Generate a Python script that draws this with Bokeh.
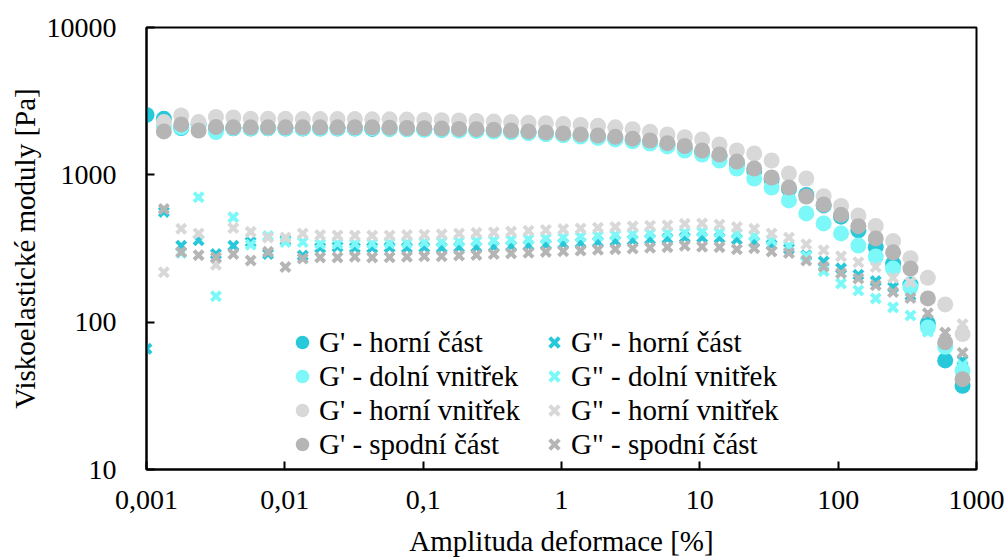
from bokeh.plotting import figure
from bokeh.models import Range1d, FixedTicker, Legend, LegendItem, ColumnDataSource
from bokeh.embed import file_html
from bokeh.resources import INLINE

NA = float("nan")

# amplitude of deformation [%]
strain = [0.001, 0.001335, 0.001782, 0.00238, 0.003177, 0.004242, 0.005664, 0.007562,
          0.0101, 0.01348, 0.018, 0.02403, 0.03208, 0.04283, 0.05718, 0.07634,
          0.1019, 0.1361, 0.1817, 0.2426, 0.3239, 0.4324, 0.5774, 0.7708,
          1.029, 1.374, 1.835, 2.449, 3.27, 4.366, 5.829, 7.782,
          10.39, 13.87, 18.52, 24.73, 33.01, 44.07, 58.84, 78.56,
          104.9, 140.0, 186.9, 249.6, 333.2, 444.9, 593.9, 792.9]

# G' (storage modulus) [Pa]
gp_horni_cast = [2550, 2400, 2080, 2200, 2060, 2070, 2060, 2070, 2060, 2060, 2060, 2060,
                 2060, 2050, 2050, 2040, 2030, 2020, 2010, 2000, 1980, 1960, 1930, 1900,
                 1870, 1840, 1800, 1760, 1710, 1660, 1590, 1520, 1420, 1330, 1190, 1060,
                 930, 800, 730, 620, 520, 420, 323, 250, 180, 98, 55, 37]
gp_dolni_vnitrek = [NA, 2150, 2100, 2200, 1950, 2080, 2070, 2070, 2070, 2070, 2070, 2070,
                    2070, 2070, 2050, 2040, 2030, 2020, 2000, 1990, 1970, 1950, 1920, 1890,
                    1860, 1820, 1780, 1740, 1690, 1630, 1560, 1463, 1374, 1251, 1104, 944,
                    820, 670, 547, 468, 400, 331, 279, 231, 173, 92, 68, 47]
gp_horni_vnitrek = [NA, 2280, 2530, 2280, 2470, 2450, 2400, 2400, 2400, 2390, 2390, 2390,
                    2390, 2380, 2380, 2370, 2360, 2350, 2340, 2320, 2300, 2280, 2260, 2240,
                    2210, 2180, 2150, 2100, 2040, 1960, 1880, 1800, 1738, 1607, 1463, 1396,
                    1251, 1021, 944, 716, 615, 530, 450, 355, 272, 200, 132, 83]
gp_spodni_cast = [NA, 1970, 2200, 2000, 2110, 2100, 2100, 2100, 2100, 2100, 2100, 2100,
                  2100, 2100, 2090, 2080, 2070, 2060, 2050, 2040, 2020, 2000, 1970, 1940,
                  1910, 1880, 1850, 1810, 1760, 1710, 1640, 1570, 1463, 1374, 1231, 1104,
                  959, 820, 713, 629, 535, 448, 370, 298, 231, 145, 73, 41]

# G'' (loss modulus) [Pa]
gpp_horni_cast = [66, 560, 330, 360, 290, 330, 350, 290, 360, 283, 320, 325,
                  320, 320, 322, 320, 322, 320, 322, 323, 325, 328, 332, 336,
                  340, 345, 350, 355, 360, 365, 370, 375, 375, 372, 365, 350,
                  335, 315, 285, 258, 232, 210, 190, 173, 152, 98, 72, 55]
gpp_dolni_vnitrek = [NA, NA, 295, 705, 150, 515, 335, 385, 350, 350, 340, 342,
                     340, 342, 345, 345, 348, 350, 352, 355, 358, 362, 366, 370,
                     375, 380, 385, 390, 395, 400, 403, 405, 410, 405, 398, 385,
                     360, 330, 280, 222, 183, 164, 145, 126, 111, 86, 68, 51]
gpp_horni_vnitrek = [NA, 218, 430, 400, 245, 435, 410, 375, 375, 400, 390, 388,
                     387, 387, 388, 390, 392, 395, 400, 404, 408, 412, 417, 422,
                     428, 433, 438, 443, 447, 451, 455, 465, 468, 460, 442, 430,
                     400, 375, 338, 308, 280, 255, 237, 200, 187, 148, 130, 97]
gpp_spodni_cast = [NA, 587, 299, 285, 275, 290, 262, 300, 237, 270, 275, 275,
                   278, 275, 276, 278, 280, 280, 283, 286, 290, 293, 296, 300,
                   303, 306, 310, 313, 316, 320, 323, 330, 325, 323, 312, 318,
                   302, 295, 262, 238, 215, 198, 178, 160, 146, 115, 85, 62]

x_ticks = [0.001, 0.01, 0.1, 1, 10, 100, 1000]
x_tick_labels = ["0,001", "0,01", "0,1", "1", "10", "100", "1000"]
y_ticks = [10, 100, 1000, 10000]
y_tick_labels = ["10", "100", "1000", "10000"]

DARK_CYAN = "#27c8da"
LIGHT_CYAN = "#7df8f8"
LIGHT_GRAY = "#d8d8d8"
DARK_GRAY = "#b5b5b5"

FONT = "Liberation Serif"
LEGEND_FONT = "'Liberation Serif', serif"

p = figure(width=1007, height=559, x_axis_type="log", y_axis_type="log",
           x_range=Range1d(0.001, 1000), y_range=Range1d(10, 10000),
           output_backend="svg", toolbar_location=None,
           min_border_left=146, min_border_right=31, min_border_top=27, min_border_bottom=90,
           background_fill_color="white", border_fill_color="white")

src = ColumnDataSource(dict(x=strain,
                            gp_hc=gp_horni_cast, gpp_hc=gpp_horni_cast,
                            gp_dv=gp_dolni_vnitrek, gpp_dv=gpp_dolni_vnitrek,
                            gp_hv=gp_horni_vnitrek, gpp_hv=gpp_horni_vnitrek,
                            gp_sc=gp_spodni_cast, gpp_sc=gpp_spodni_cast))

def circ(col, color):
    return p.scatter("x", col, source=src, marker="circle", size=16,
                     fill_color=color, line_color=None)

def cross(col, color):
    return p.scatter("x", col, source=src, marker="x", size=13,
                     line_color=color, line_width=4)

r1 = circ("gp_hc", DARK_CYAN)
r2 = cross("gpp_hc", DARK_CYAN)
r3 = circ("gp_dv", LIGHT_CYAN)
r4 = cross("gpp_dv", LIGHT_CYAN)
r5 = circ("gp_hv", LIGHT_GRAY)
r6 = cross("gpp_hv", LIGHT_GRAY)
r7 = circ("gp_sc", DARK_GRAY)
r8 = cross("gpp_sc", DARK_GRAY)

def make_legend(items, loc):
    leg = Legend(items=[LegendItem(label=l, renderers=[r]) for l, r in items],
                 location=loc, orientation="vertical",
                 glyph_width=34, glyph_height=34, label_height=34, label_standoff=0,
                 spacing=0, padding=0, margin=0,
                 border_line_alpha=0, background_fill_alpha=0)
    leg.label_text_font = LEGEND_FONT
    leg.label_text_font_size = "29px"
    leg.label_text_font_style = "normal"
    leg.label_text_color = "black"
    return leg

p.add_layout(make_legend([("G' - horní část", r1), ("G' - dolní vnitřek", r3),
                          ("G' - horní vnitřek", r5), ("G' - spodní část", r7)], (139, 8)))
p.add_layout(make_legend([('G" - horní část', r2), ('G" - dolní vnitřek', r4),
                          ('G" - horní vnitřek', r6), ('G" - spodní část', r8)], (391, 8)))

p.xgrid.visible = False
p.ygrid.visible = False
p.outline_line_color = "black"
p.outline_line_width = 2

p.xaxis.ticker = FixedTicker(ticks=x_ticks, minor_ticks=[])
p.yaxis.ticker = FixedTicker(ticks=y_ticks, minor_ticks=[])
p.xaxis.major_label_overrides = {t: s for t, s in zip(x_ticks, x_tick_labels)}
p.yaxis.major_label_overrides = {t: s for t, s in zip(y_ticks, y_tick_labels)}

for ax in (p.xaxis, p.yaxis):
    ax.axis_line_color = "black"
    ax.axis_line_width = 2
    ax.major_tick_in = 8
    ax.major_tick_out = 0
    ax.major_tick_line_color = "black"
    ax.major_tick_line_width = 2
    ax.minor_tick_line_color = None
    ax.major_label_text_font = FONT
    ax.major_label_text_font_size = "28px"
    ax.major_label_text_color = "black"
    ax.axis_label_text_font = FONT
    ax.axis_label_text_font_size = "29px"
    ax.axis_label_text_font_style = "normal"
    ax.axis_label_text_color = "black"

p.xaxis.axis_label = "Amplituda deformace [%]"
p.yaxis.axis_label = "Viskoelastické moduly [Pa]"
p.xaxis.major_label_standoff = 21
p.xaxis.axis_label_standoff = 13
p.yaxis.major_label_standoff = 30
p.yaxis.axis_label_standoff = 3

open("out.html", "w").write(file_html(p, INLINE))
